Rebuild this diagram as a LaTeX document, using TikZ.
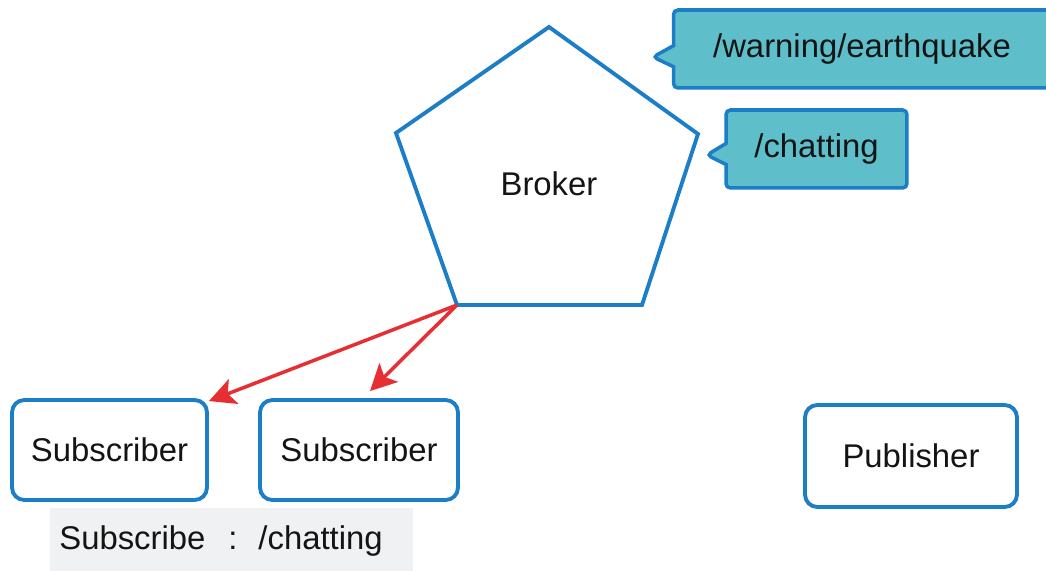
\documentclass[tikz,border=0pt]{standalone}
\usepackage{fontspec}
\setmainfont{Liberation Sans}
\usetikzlibrary{shapes.callouts,arrows.meta,calc}

\definecolor{edgeblue}{HTML}{1C7EC6}
\definecolor{topicfill}{HTML}{5EBFCB}
\definecolor{arrowred}{HTML}{E62E33}
\definecolor{notegray}{HTML}{EFF1F2}

\tikzset{
  lbl/.style={font=\fontsize{18.7}{22}\selectfont, text=black!92},
  client/.style={lbl, draw=edgeblue, line width=2.2pt, rounded corners=7pt,
    fill=white, inner sep=0pt},
  topic/.style={lbl, rectangle callout, draw=edgeblue, fill=topicfill,
    line width=2pt, rounded corners=2.5pt, inner sep=0pt,
    callout pointer width=12pt},
  flow/.style={draw=arrowred, line width=2pt,
    -{Stealth[length=15pt, width=15pt, inset=3.5pt]}},
}

\begin{document}
\begin{tikzpicture}[x=0.02cm, y=-0.02cm]
  \useasboundingbox (0,0) rectangle (1046,571);
  \clip (0,0) rectangle (1046,571);

  % broker pentagon
  \coordinate (p1) at (549,27);
  \coordinate (p2) at (698,134);
  \coordinate (p3) at (642,305);
  \coordinate (p4) at (457,305);
  \coordinate (p5) at (396,133);
  \draw[edgeblue, line width=2.2pt, line join=miter]
    (p1) -- (p2) -- (p3) -- (p4) -- (p5) -- cycle;
  \node[lbl] (broker) at (549,184) {Broker};

  % topics held by the broker
  \node[topic, minimum width=7.54cm, minimum height=1.56cm,
        callout absolute pointer={(653,57)}] (quake) at (862,49)
        {/warning/earthquake};
  \node[topic, minimum width=3.62cm, minimum height=1.56cm,
        callout absolute pointer={(707,155)}] (chat) at (816.5,149)
        {/chatting};

  % clients
  \node[client, minimum width=3.9cm, minimum height=2cm]
    (sub1) at (109.5,450) {Subscriber};
  \node[client, minimum width=3.96cm, minimum height=2cm]
    (sub2) at (359,450) {Subscriber};
  \node[client, minimum width=4.24cm, minimum height=2.04cm]
    (pub) at (911,456) {Publisher};

  % subscription note
  \fill[notegray] (50,508) rectangle (413,575);
  \node[lbl, anchor=west, inner sep=0pt] (note) at (59,541)
    {Subscribe\hspace{13pt}:\hspace{12pt}/chatting};

  % delivery from the broker to the subscribers
  \coordinate (t2) at ($(sub2.north)+(11,-7)$);
  \draw[flow] (p4) -- ($(sub1.north east)+(0,3)$);
  \draw[flow] (p4) -- (t2);
\end{tikzpicture}
\end{document}
